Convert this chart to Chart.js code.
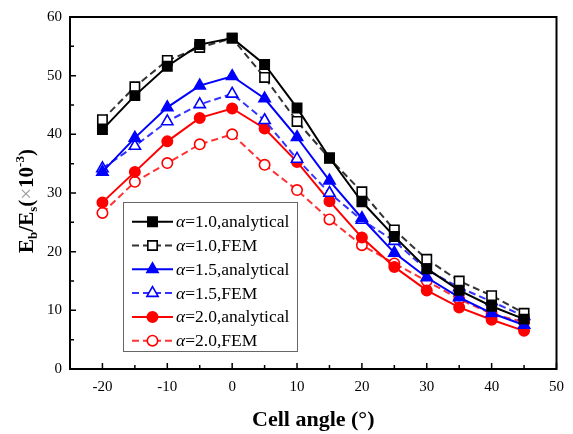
<!DOCTYPE html>
<html>
<head>
<meta charset="utf-8">
<script src="https://cdn.jsdelivr.net/npm/chart.js@4.4.0/dist/chart.umd.min.js"></script>
<style>
  html, body { margin: 0; padding: 0; background: #fff; }
  #wrap { width: 573px; height: 434px; }
</style>
</head>
<body>
<div id="wrap"><canvas id="c" width="573" height="434"></canvas></div>
<script>
// ---- data ----
const cellAngles = [-20, -15, -10, -5, 0, 5, 10, 15, 20, 25, 30, 35, 40, 45];
const alpha10Analytical = [40.8, 46.6, 51.6, 55.3, 56.4, 51.9, 44.5, 36.0, 28.5, 22.6, 17.1, 13.4, 10.7, 8.5];
const alpha10FEM        = [42.5, 48.1, 52.6, 54.8, 56.4, 49.7, 42.2, 35.9, 30.2, 23.7, 18.7, 15.0, 12.5, 9.5];
const alpha15Analytical = [33.6, 39.4, 44.6, 48.3, 49.9, 46.1, 39.5, 32.1, 25.7, 19.8, 15.6, 12.2, 9.5, 7.5];
const alpha15FEM        = [34.2, 38.0, 42.2, 45.1, 46.9, 42.4, 35.8, 30.0, 25.4, 21.8, 16.9, 13.9, 11.5, 9.0];
const alpha20Analytical = [28.4, 33.6, 38.8, 42.8, 44.4, 41.0, 35.3, 28.6, 22.4, 17.4, 13.4, 10.5, 8.4, 6.5];
const alpha20FEM        = [26.6, 31.9, 35.1, 38.3, 40.0, 34.8, 30.5, 25.5, 21.1, 18.0, 15.0, 11.9, 9.4, 8.0];
const xTickLabels = [-20, -10, 0, 10, 20, 30, 40, 50];
const yTickLabels = [0, 10, 20, 30, 40, 50, 60];
const seriesLabels = ['1.0,analytical', '1.0,FEM', '1.5,analytical', '1.5,FEM', '2.0,analytical', '2.0,FEM'];

const toXY = arr => arr.map((v, i) => ({ x: cellAngles[i], y: v }));

const series = [
  { data: alpha10Analytical, color: '#000000', line: '#000000', dash: [], style: 'rect', r: 6.6, fill: true },
  { data: alpha10FEM,        color: '#000000', line: '#333333', dash: [7, 4], style: 'rect', r: 6.6, fill: false },
  { data: alpha15Analytical, color: '#0000ff', line: '#0000ff', dash: [], style: 'triangle', r: 6.5, fill: true },
  { data: alpha15FEM,        color: '#0000ff', line: '#3333ff', dash: [7, 4], style: 'triangle', r: 6.5, fill: false },
  { data: alpha20Analytical, color: '#ff0000', line: '#ff0000', dash: [], style: 'circle', r: 5.2, fill: true },
  { data: alpha20FEM,        color: '#ff0000', line: '#ff3333', dash: [7, 4], style: 'circle', r: 5.2, fill: false }
];

const datasets = series.map((s, i) => ({
  label: seriesLabels[i],
  data: toXY(s.data),
  borderColor: s.line,
  borderWidth: 2,
  borderDash: s.dash,
  pointStyle: s.style,
  pointRadius: s.r,
  pointHoverRadius: s.r,
  pointBorderWidth: 1.6,
  pointBorderColor: s.color,
  pointBackgroundColor: s.fill ? s.color : '#ffffff',
  showLine: true,
  tension: 0,
  fill: false
}));

const SERIF = '"Liberation Serif", "Times New Roman", serif';

const framePlugin = {
  id: 'frame',
  afterDraw(chart) {
    const { ctx, chartArea: a, scales } = chart;
    ctx.save();
    ctx.strokeStyle = '#000';
    ctx.lineWidth = 2;
    ctx.strokeRect(a.left, a.top, a.right - a.left, a.bottom - a.top);
    ctx.lineWidth = 1.5;
    ctx.beginPath();
    for (let v = -20; v <= 50; v += 5) {
      const px = scales.x.getPixelForValue(v);
      const len = (v % 10 === 0) ? 6 : 4;
      ctx.moveTo(px, a.bottom);
      ctx.lineTo(px, a.bottom - len);
    }
    for (let v = 5; v < 60; v += 5) {
      const py = scales.y.getPixelForValue(v);
      const len = (v % 10 === 0) ? 6 : 4;
      ctx.moveTo(a.left, py);
      ctx.lineTo(a.left + len, py);
    }
    ctx.stroke();
    ctx.restore();
  }
};

const yTitlePlugin = {
  id: 'ytitle',
  afterDraw(chart) {
    const ctx = chart.ctx;
    const parts = [
      { t: 'E', f: 'bold 21px ' + SERIF, dy: 0, c: '#000' },
      { t: 'b', f: 'bold 13px ' + SERIF, dy: 4, c: '#000' },
      { t: '/E', f: 'bold 21px ' + SERIF, dy: 0, c: '#000' },
      { t: 's', f: 'bold 13px ' + SERIF, dy: 4, c: '#000' },
      { t: '(', f: 'bold 21px ' + SERIF, dy: 0, c: '#000' },
      { t: '\u00d7', f: '21px ' + SERIF, dy: 0, c: '#999' },
      { t: '10', f: 'bold 21px ' + SERIF, dy: 0, c: '#000' },
      { t: '-3', f: 'bold 13px ' + SERIF, dy: -9, c: '#000' },
      { t: ')', f: 'bold 21px ' + SERIF, dy: 0, c: '#000' }
    ];
    ctx.save();
    let total = 0;
    parts.forEach(p => { ctx.font = p.f; p.w = ctx.measureText(p.t).width; total += p.w; });
    ctx.translate(26, 201);
    ctx.rotate(-Math.PI / 2);
    ctx.textBaseline = 'alphabetic';
    ctx.textAlign = 'left';
    let x = -total / 2;
    parts.forEach(p => {
      ctx.font = p.f;
      ctx.fillStyle = p.c;
      ctx.fillText(p.t, x, 7 + p.dy);
      x += p.w;
    });
    ctx.restore();
  }
};

const legendPlugin = {
  id: 'customLegend',
  afterDraw(chart) {
    const ctx = chart.ctx;
    const box = { x: 123, y: 202, w: 174, h: 149 };
    ctx.save();
    ctx.fillStyle = '#fff';
    ctx.fillRect(box.x, box.y, box.w, box.h);
    ctx.strokeStyle = '#666';
    ctx.lineWidth = 1;
    ctx.strokeRect(box.x + 0.5, box.y + 0.5, box.w, box.h);
    const rowY0 = 221.7, rowStep = 23.8;
    chart.data.datasets.forEach((ds, i) => {
      const y = rowY0 + i * rowStep;
      ctx.save();
      ctx.strokeStyle = ds.borderColor;
      ctx.lineWidth = 2;
      ctx.setLineDash(ds.borderDash);
      ctx.beginPath();
      ctx.moveTo(132, y);
      ctx.lineTo(173, y);
      ctx.stroke();
      ctx.restore();
      ctx.save();
      ctx.fillStyle = ds.pointBackgroundColor;
      ctx.strokeStyle = ds.pointBorderColor;
      ctx.lineWidth = ds.pointBorderWidth;
      Chart.helpers.drawPoint(ctx, { pointStyle: ds.pointStyle, radius: ds.pointRadius, borderWidth: ds.pointBorderWidth, rotation: 0 }, 152.5, y);
      ctx.restore();
      ctx.fillStyle = '#000';
      ctx.textBaseline = 'middle';
      ctx.textAlign = 'left';
      ctx.font = 'italic 17.5px ' + SERIF;
      ctx.fillText('\u03b1', 176, y + 1);
      const aw = ctx.measureText('\u03b1').width;
      ctx.font = '17.5px ' + SERIF;
      ctx.fillText('=' + ds.label, 176 + aw, y + 1);
    });
    ctx.restore();
  }
};

new Chart(document.getElementById('c'), {
  type: 'scatter',
  data: { datasets },
  plugins: [framePlugin, yTitlePlugin, legendPlugin],
  options: {
    responsive: false,
    animation: false,
    devicePixelRatio: 1,
    layout: { padding: { left: 0, right: 10, top: 10, bottom: 0 } },
    plugins: { legend: { display: false }, tooltip: { enabled: false } },
    scales: {
      x: {
        type: 'linear',
        min: -25, max: 50,
        afterBuildTicks: s => { s.ticks = xTickLabels.map(v => ({ value: v })); },
        afterFit: s => { s.height = 65; },
        grid: { display: false, drawTicks: false },
        border: { display: false },
        ticks: { padding: 9, maxRotation: 0, color: '#000', font: { family: SERIF, size: 15 } },
        title: { display: true, text: 'Cell angle (\u00b0)', color: '#000', padding: { top: 2, bottom: 0 }, font: { family: SERIF, size: 22, weight: 'bold' } }
      },
      y: {
        min: 0, max: 60,
        afterBuildTicks: s => { s.ticks = yTickLabels.map(v => ({ value: v })); },
        afterFit: s => { s.width = 70; },
        grid: { display: false, drawTicks: false },
        border: { display: false },
        ticks: { padding: 8, color: '#000', font: { family: SERIF, size: 15 } }
      }
    }
  }
});
</script>
</body>
</html>
